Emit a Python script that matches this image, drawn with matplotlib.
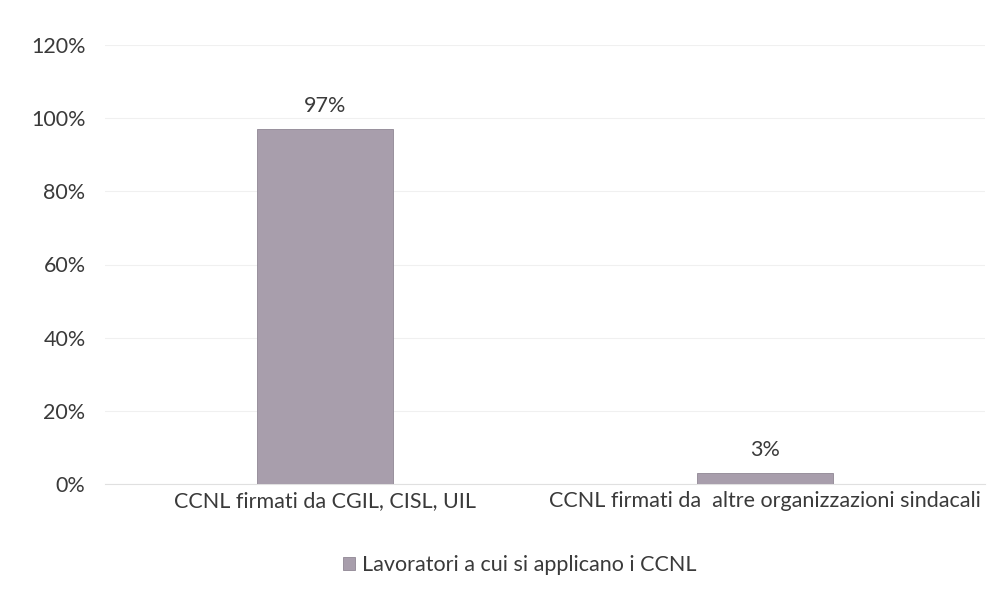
import matplotlib
matplotlib.use("Agg")
import matplotlib.pyplot as plt
from matplotlib.ticker import PercentFormatter

plt.rcParams['font.family'] = ['Lato', 'DejaVu Sans']

categories = ["CCNL firmati da CGIL, CISL, UIL",
              "CCNL firmati da  altre organizzazioni sindacali"]
values = [0.97, 0.03]
value_labels = ["97%", "3%"]
series_name = "Lavoratori a cui si applicano i CCNL"

bar_color = (168/255, 158/255, 172/255)
text_color = "#3a3a3a"
fs = 15.5

fig = plt.figure(figsize=(9.99, 5.95), dpi=100)
ax = fig.add_axes([105/999, 111/595, 880/999, 439/595])

x_pos = list(range(len(categories)))
bars = ax.bar(x_pos, values, 0.31, color=bar_color, edgecolor="#8f8794",
              linewidth=0.6, label=series_name, zorder=3)
for xp, v, lab in zip(x_pos, values, value_labels):
    ax.text(xp, v + 0.035, lab, ha='center', va='bottom', fontsize=fs,
            color=text_color)

ax.set_xlim(-0.5, 1.5)
ax.set_ylim(0, 1.2)
ax.set_yticks([0, 0.2, 0.4, 0.6, 0.8, 1.0, 1.2])
ax.yaxis.set_major_formatter(PercentFormatter(1.0, decimals=0))
ax.set_xticks(x_pos)
ax.set_xticklabels(categories)
ax.tick_params(axis='both', length=0, labelsize=fs, colors=text_color)
ax.tick_params(axis='y', pad=14)
ax.tick_params(axis='x', pad=5)
ax.grid(axis='y', color="#f0f0f0", linewidth=0.8, zorder=0)
for s in ["top", "right", "left"]:
    ax.spines[s].set_visible(False)
ax.spines["bottom"].set_color("#e0e0e0")
ax.spines["bottom"].set_linewidth(0.8)

leg = fig.legend(handles=[bars], labels=[series_name], loc='center',
                 bbox_to_anchor=(520/999, 1 - 565/595), frameon=False,
                 fontsize=fs, handlelength=0.55, handleheight=0.55,
                 handletextpad=0.35)
for t in leg.get_texts():
    t.set_color(text_color)

fig.savefig("out.png", dpi=100)
